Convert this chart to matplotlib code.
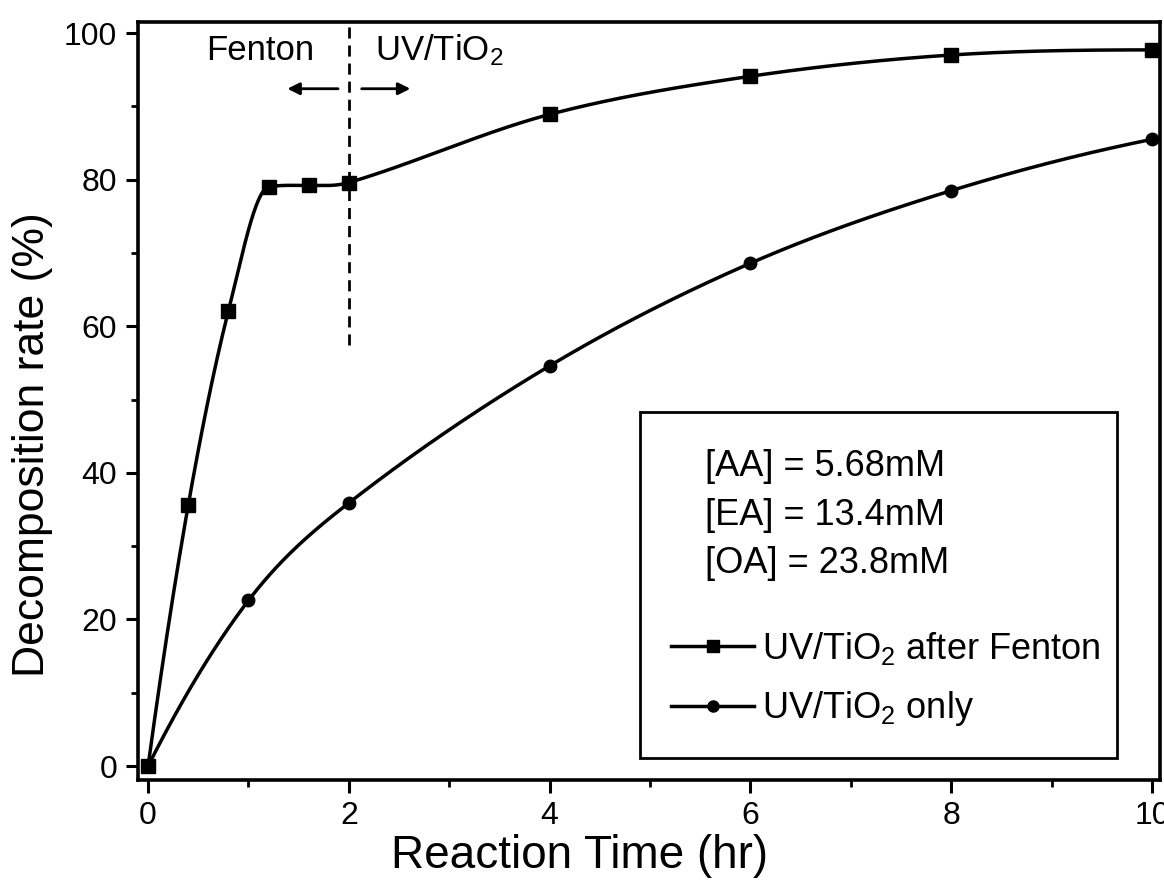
import numpy as np
import matplotlib
matplotlib.use('Agg')
import matplotlib.pyplot as plt
from matplotlib.patches import Rectangle

plt.rcParams['font.family'] = ['Liberation Sans', 'DejaVu Sans']
plt.rcParams['mathtext.fontset'] = 'custom'
plt.rcParams['mathtext.rm'] = 'Liberation Sans'
plt.rcParams['mathtext.it'] = 'Liberation Sans'

# data
time_fenton = [0, 0.4, 0.8, 1.2, 1.6, 2, 4, 6, 8, 10]
rate_fenton = [0, 35.6, 62.1, 79.0, 79.2, 79.6, 88.9, 94.1, 97.0, 97.7]
time_uv = [0, 1, 2, 4, 6, 8, 10]
rate_uv = [0, 22.6, 35.9, 54.6, 68.6, 78.5, 85.5]
conc_lines = ['[AA] = 5.68mM', '[EA] = 13.4mM', '[OA] = 23.8mM']
x_ticks = [0, 2, 4, 6, 8, 10]
y_ticks = [0, 20, 40, 60, 80, 100]


def smooth(x, y, xs):
    """Loosely limited monotone cubic through the points, for the connecting line."""
    x = np.asarray(x, float)
    y = np.asarray(y, float)
    h = np.diff(x)
    d = np.diff(y) / h
    n = len(x)
    m = np.empty(n)
    m[0] = ((2 * h[0] + h[1]) * d[0] - h[0] * d[1]) / (h[0] + h[1])
    m[-1] = ((2 * h[-1] + h[-2]) * d[-1] - h[-1] * d[-2]) / (h[-1] + h[-2])
    m[1:-1] = (y[2:] - y[:-2]) / (x[2:] - x[:-2])
    for k in range(n - 1):
        if d[k] == 0:
            m[k] = m[k + 1] = 0
            continue
        a, b = max(m[k] / d[k], 0), max(m[k + 1] / d[k], 0)
        if np.hypot(a, b) > 5:
            tau = 5 / np.hypot(a, b)
            a, b = tau * a, tau * b
        m[k], m[k + 1] = a * d[k], b * d[k]
    idx = np.clip(np.searchsorted(x, xs) - 1, 0, n - 2)
    t = (xs - x[idx]) / h[idx]
    h00 = 2 * t**3 - 3 * t**2 + 1
    h10 = t**3 - 2 * t**2 + t
    h01 = -2 * t**3 + 3 * t**2
    h11 = t**3 - t**2
    return h00 * y[idx] + h10 * h[idx] * m[idx] + h01 * y[idx + 1] + h11 * h[idx] * m[idx + 1]


fig = plt.figure(figsize=(11.64, 8.88), dpi=100)
ax = fig.add_axes([0.1186, 0.1216, 0.878, 0.8536])

xs = np.linspace(0, 10, 800)
ax.plot(xs, smooth(time_fenton, rate_fenton, xs), color='black', lw=2.5)
ax.plot(time_fenton, rate_fenton, 's', color='black', ms=10)
ax.plot(xs, smooth(time_uv, rate_uv, xs), color='black', lw=2.5)
ax.plot(time_uv, rate_uv, 'o', color='black', ms=9)

# legend proxies
h1, = ax.plot([], [], '-s', color='black', lw=2.5, ms=9)
h2, = ax.plot([], [], '-o', color='black', lw=2.5, ms=8)

ax.set_xlim(-0.1, 10.08)
ax.set_ylim(-1.9, 101.5)
ax.set_xticks(x_ticks)
ax.set_yticks(y_ticks)
ax.set_xticks([1, 3, 5, 7, 9], minor=True)
ax.set_yticks([10, 30, 50, 70, 90], minor=True)
ax.tick_params(which='major', direction='out', length=9, width=2.2, labelsize=23, pad=6)
ax.tick_params(which='minor', direction='out', length=5, width=2)
for s in ax.spines.values():
    s.set_linewidth(2.6)

ax.set_xlabel('Reaction Time (hr)', fontsize=33, labelpad=2)
ax.set_ylabel('Decomposition rate (%)', fontsize=32, labelpad=8)
ax.xaxis.label.set_x(0.432)
ax.yaxis.label.set_y(0.442)

# Fenton / UV boundary
ax.plot([2, 2], [57.5, 101.5], color='black', lw=2, ls=(0, (4, 2.5)))
ax.text(1.12, 97.6, 'Fenton', fontsize=25, ha='center', va='center')
ax.text(2.26, 97.6, 'UV/TiO$_2$', fontsize=25, ha='left', va='center')
ax.annotate('', xy=(1.36, 92.4), xytext=(1.92, 92.4),
            arrowprops=dict(arrowstyle='-|>', color='black', lw=2, mutation_scale=18))
ax.annotate('', xy=(2.64, 92.4), xytext=(2.1, 92.4),
            arrowprops=dict(arrowstyle='-|>', color='black', lw=2, mutation_scale=18))

# info box
ax.add_patch(Rectangle((0.491, 0.029), 0.467, 0.4565, transform=ax.transAxes,
                       fill=False, edgecolor='black', lw=2))
for i, line in enumerate(conc_lines):
    ax.text(0.555, 0.413 - i * 0.064, line, transform=ax.transAxes,
            fontsize=26, ha='left', va='center')

ax.legend([h1, h2], ['UV/TiO$_2$ after Fenton', 'UV/TiO$_2$ only'],
          loc='lower left', bbox_to_anchor=(0.497, 0.035), frameon=False,
          fontsize=26, handlelength=2.3, handletextpad=0.2, labelspacing=0.62,
          borderpad=0.2)

fig.savefig('out.png', dpi=100)
